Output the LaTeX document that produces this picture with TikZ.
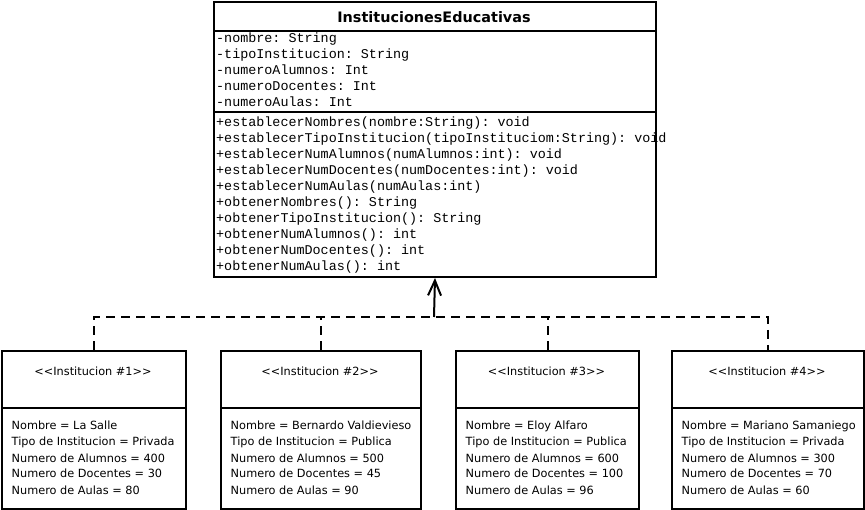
\documentclass[tikz,border=0pt]{standalone}
\usepackage{fontspec}
\setmainfont{DejaVu Sans}[Ligatures=TeXOff]
\setmonofont{Liberation Mono}
\usetikzlibrary{arrows.meta}
\begin{document}
\begin{tikzpicture}[x=1pt,y=-1pt,
  frame/.style={draw=black, line width=2pt, inner sep=0pt, anchor=north west},
  mono/.style={font=\fontsize{13.4}{16}\selectfont\ttfamily, inner sep=0pt, anchor=base west},
  val/.style={font=\fontsize{11.3}{16}\selectfont, inner sep=0pt, anchor=base west},
  stereo/.style={font=\fontsize{11.3}{16}\selectfont, inner sep=0pt, anchor=base},
  titlefont/.style={font=\fontsize{14.4}{16}\selectfont\bfseries, inner sep=0pt, anchor=base},
  link/.style={line width=2pt, dash pattern=on 9pt off 6pt},
  realize/.style={line width=2pt, -{Straight Barb[length=15pt,width=13pt]}}]
\useasboundingbox[fill=white] (0,0) rectangle (865,510);

% main class
\node[frame, minimum width=442pt, minimum height=29pt] (title) at (213,1) {};
\node[frame, minimum width=442pt, minimum height=81pt] (attrs) at (213,30) {};
\node[frame, minimum width=442pt, minimum height=165pt] (methods) at (213,111) {};
\node[titlefont] (titletext) at (434,22.5) {InstitucionesEducativas};

\foreach \t [count=\i] in {{-nombre: String},{-tipoInstitucion: String},{-numeroAlumnos: Int},{-numeroDocentes: Int},{-numeroAulas: Int}}
  \node[mono] (a\i) at (216,{26.5+16*\i}) {\t};

\foreach \t [count=\i] in {{+establecerNombres(nombre:String): void},{+establecerTipoInstitucion(tipoInstituciom:String): void},{+establecerNumAlumnos(numAlumnos:int): void},{+establecerNumDocentes(numDocentes:int): void},{+establecerNumAulas(numAulas:int)},{+obtenerNombres(): String},{+obtenerTipoInstitucion(): String},{+obtenerNumAlumnos(): int},{+obtenerNumDocentes(): int},{+obtenerNumAulas(): int}}
  \node[mono] (m\i) at (216,{111+16*\i}) {\t};

% instances
\foreach \x/\w/\nm/\tp/\al/\dc/\au [count=\i] in {
  1/184/La Salle/Privada/400/30/80,
  220/200/Bernardo Valdievieso/Publica/500/45/90,
  455/183/Eloy Alfaro/Publica/600/100/96,
  671/192/Mariano Samaniego/Privada/300/70/60}
{
  \node[frame, minimum width=\w pt, minimum height=57pt] (h\i) at (\x,350) {};
  \node[frame, minimum width=\w pt, minimum height=101pt] (b\i) at (\x,407) {};
  \node[stereo] (s\i) at ({\x+\w/2},376) {<<Institucion \#\i>>};
  \node[val] (n\i) at ({\x+10.5},430) {Nombre = \nm};
  \node[val] (t\i) at ({\x+10.5},446) {Tipo de Institucion = \tp};
  \node[val] (p\i) at ({\x+10.5},462) {Numero de Alumnos = \al};
  \node[val] (d\i) at ({\x+10.5},478) {Numero de Docentes = \dc};
  \node[val] (u\i) at ({\x+10.5},494) {Numero de Aulas = \au};
}

% connectors
\coordinate (bus) at (434,317);
\draw[link] (h1.north) -- ++(0,-33) -| (h4.north);
\draw[link] (h2.north) -- ++(0,-33);
\draw[link] (h3.north) -- ++(0,-33);
\draw[realize] (bus) -- (methods.south);
\end{tikzpicture}
\end{document}
